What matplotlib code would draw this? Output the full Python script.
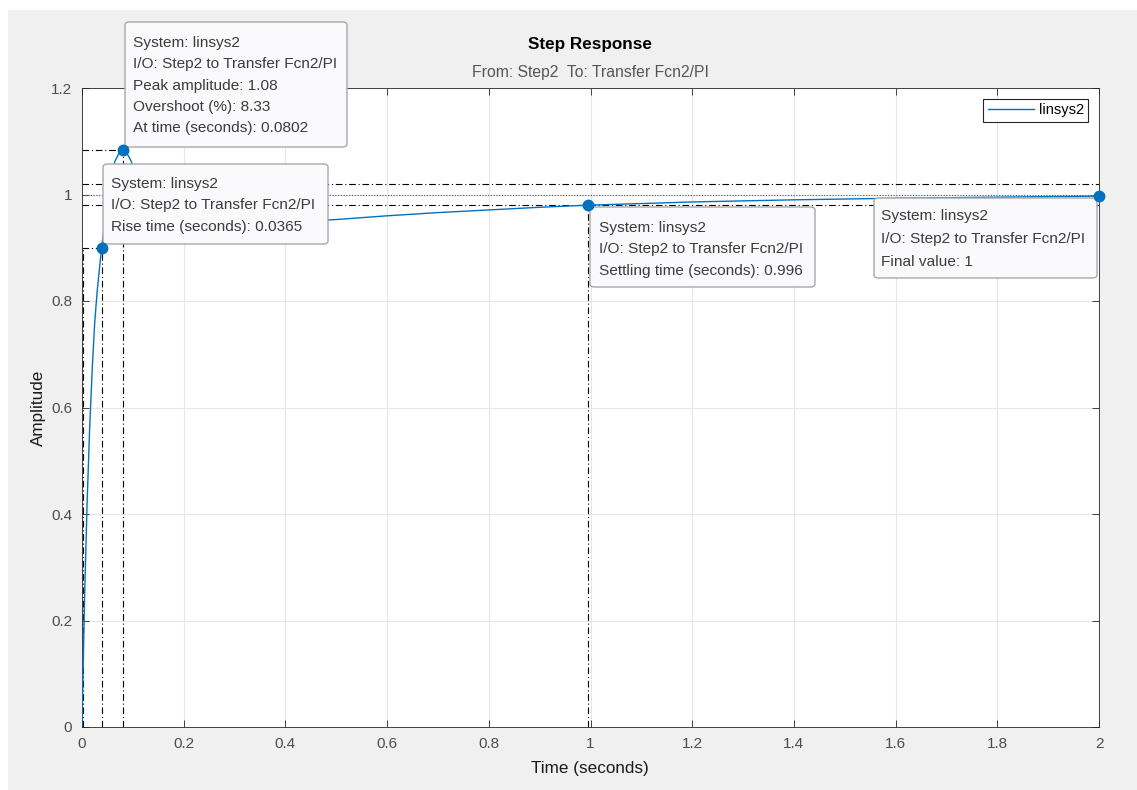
import matplotlib
matplotlib.use("Agg")
import matplotlib.pyplot as plt
from matplotlib.patches import FancyBboxPatch, Rectangle

plt.rcParams['font.family'] = ['Liberation Sans', 'DejaVu Sans']

# ---- data ----
time_s = [0, 0.002, 0.005, 0.01, 0.015, 0.02, 0.025, 0.03, 0.0385, 0.045, 0.05,
          0.055, 0.06, 0.065, 0.0725, 0.0802, 0.088, 0.096, 0.105, 0.115, 0.125,
          0.135, 0.145, 0.155, 0.165, 0.18, 0.2, 0.25, 0.3, 0.4, 0.5, 0.6, 0.7,
          0.8, 0.9, 0.996, 1.1, 1.2, 1.4, 1.6, 1.8, 2.0]
amplitude = [0, 0.10, 0.24, 0.42, 0.56, 0.67, 0.76, 0.82, 0.90, 0.95, 0.985,
             1.015, 1.045, 1.063, 1.077, 1.083, 1.078, 1.064, 1.04, 1.01, 0.985,
             0.966, 0.953, 0.945, 0.941, 0.939, 0.939, 0.941, 0.944, 0.948, 0.953,
             0.960, 0.966, 0.971, 0.976, 0.980, 0.983, 0.986, 0.990, 0.993, 0.995, 0.997]

t10, t90 = 0.002, 0.0385
rise_time = 0.0365
peak_time, peak_amp, overshoot = 0.0802, 1.08, 8.33
settle_time = 0.996
final_value = 1.0

xticks = [0, 0.2, 0.4, 0.6, 0.8, 1, 1.2, 1.4, 1.6, 1.8, 2]
xticklabels = ['0', '0.2', '0.4', '0.6', '0.8', '1', '1.2', '1.4', '1.6', '1.8', '2']
yticks = [0, 0.2, 0.4, 0.6, 0.8, 1, 1.2]
yticklabels = ['0', '0.2', '0.4', '0.6', '0.8', '1', '1.2']

tip_peak = ["System: linsys2", "I/O: Step2 to Transfer Fcn2/PI",
            "Peak amplitude: 1.08", "Overshoot (%): 8.33", "At time (seconds): 0.0802"]
tip_rise = ["System: linsys2", "I/O: Step2 to Transfer Fcn2/PI",
            "Rise time (seconds): 0.0365"]
tip_settle = ["System: linsys2", "I/O: Step2 to Transfer Fcn2/PI",
              "Settling time (seconds): 0.996"]
tip_final = ["System: linsys2", "I/O: Step2 to Transfer Fcn2/PI", "Final value: 1"]

# ---- figure ----
W, H = 1137, 790
fig = plt.figure(figsize=(W / 100, H / 100), dpi=100)
fig.patch.set_facecolor('white')
fig.add_artist(Rectangle((8 / W, 0), 1 - 8 / W, 1 - 10 / H, transform=fig.transFigure,
                         facecolor='#f0f0f0', edgecolor='none', zorder=-10))

def fx(px):
    return px / W

def fy(py):
    return 1 - py / H

L, R, T, B = 82, 1099, 88, 727
ax = fig.add_axes([fx(L), fy(B), (R - L) / W, (B - T) / H])
ax.set_facecolor('white')

line_c = '#0072BD'
ax.plot(time_s, amplitude, color=line_c, lw=1.0, label='linsys2', zorder=3)

dd = dict(color='black', lw=0.8, linestyle=(0, (6, 2.5, 1, 2.5)), zorder=2)
# peak
ax.plot([0, peak_time], [1.083, 1.083], **dd)
ax.plot([peak_time, peak_time], [0, 1.083], **dd)
# rise
ax.plot([0, t90], [0.9, 0.9], **dd)
ax.plot([t90, t90], [0, 0.9], **dd)
ax.plot([t10, t10], [0, 0.9], **dd)
# settling
ax.plot([0, 2], [1.02, 1.02], **dd)
ax.plot([0, 2], [0.98, 0.98], **dd)
ax.plot([settle_time, settle_time], [0, 0.98], **dd)
# final value
ax.plot([0, 2], [final_value, final_value], color='#555555', lw=0.8,
        linestyle=(0, (1, 1.5)), zorder=2)

ax.set_xlim(0, 2)
ax.set_ylim(0, 1.2)
ax.set_xticks(xticks)
ax.set_xticklabels(xticklabels)
ax.set_yticks(yticks)
ax.set_yticklabels(yticklabels)
ax.grid(True, color='#e6e6e6', lw=0.8)
ax.set_axisbelow(True)
ax.tick_params(direction='in', length=5, width=0.6, colors='#262626',
               labelcolor='#4d4d4d', labelsize=11, top=True, right=True)
ax.tick_params(axis='x', pad=7)
ax.tick_params(axis='y', pad=7)
for s in ax.spines.values():
    s.set_color('#262626')
    s.set_linewidth(0.6)

leg = ax.legend(loc='upper right', bbox_to_anchor=(0.9895, 0.983), fontsize=10.5,
                frameon=True, fancybox=False, borderpad=0.3, handlelength=3.2,
                handletextpad=0.3, borderaxespad=0)
leg.get_frame().set_edgecolor('#262626')
leg.get_frame().set_linewidth(0.8)
leg.get_frame().set_facecolor('white')
leg.get_frame().set_alpha(1)

fig.text(fx(590), fy(45), 'Step Response', ha='center', va='center',
         fontsize=12.3, fontweight='bold', color='black')
fig.text(fx(590), fy(73), 'From: Step2  To: Transfer Fcn2/PI', ha='center', va='center',
         fontsize=11.3, color='#555555')
fig.text(fx(590), fy(768), 'Time (seconds)', ha='center', va='center', fontsize=12.3,
         color='#1a1a1a')
fig.text(fx(38), fy(408), 'Amplitude', ha='center', va='center', rotation=90,
         fontsize=12.3, color='#1a1a1a')

def tip(x0, y0, x1, y1, lines, tx, ty0, dy=21.3):
    box = FancyBboxPatch((fx(x0), fy(y1)), fx(x1) - fx(x0), fy(y0) - fy(y1),
                         boxstyle='round,pad=0,rounding_size=0.004',
                         transform=fig.transFigure, facecolor='#fafafc',
                         edgecolor='#a8a8a8', lw=1.0, zorder=20, clip_on=False)
    ax.add_artist(box)
    for i, s in enumerate(lines):
        ax.text(fx(tx), fy(ty0 + i * dy), s, transform=fig.transFigure,
                ha='left', va='center', fontsize=11.1, color='#3c3c3c',
                zorder=21, clip_on=False)

tip(125, 22, 347, 147, tip_peak, 133, 43)
tip(103, 164, 328, 244, tip_rise, 111, 184)
tip(590, 207, 815, 287, tip_settle, 599, 228)
tip(874, 198, 1097, 278, tip_final, 881, 216, dy=23)

# markers on top of tips
mk = dict(marker='o', ms=7.5, color=line_c, linestyle='none', zorder=30, clip_on=False)
ax.plot([peak_time], [1.083], **mk)
ax.plot([t90], [0.9], **mk)
ax.plot([settle_time], [0.98], **mk)
ax.plot([2.0], [0.997], **mk)

fig.savefig('out.png', dpi=100, facecolor=fig.get_facecolor())
